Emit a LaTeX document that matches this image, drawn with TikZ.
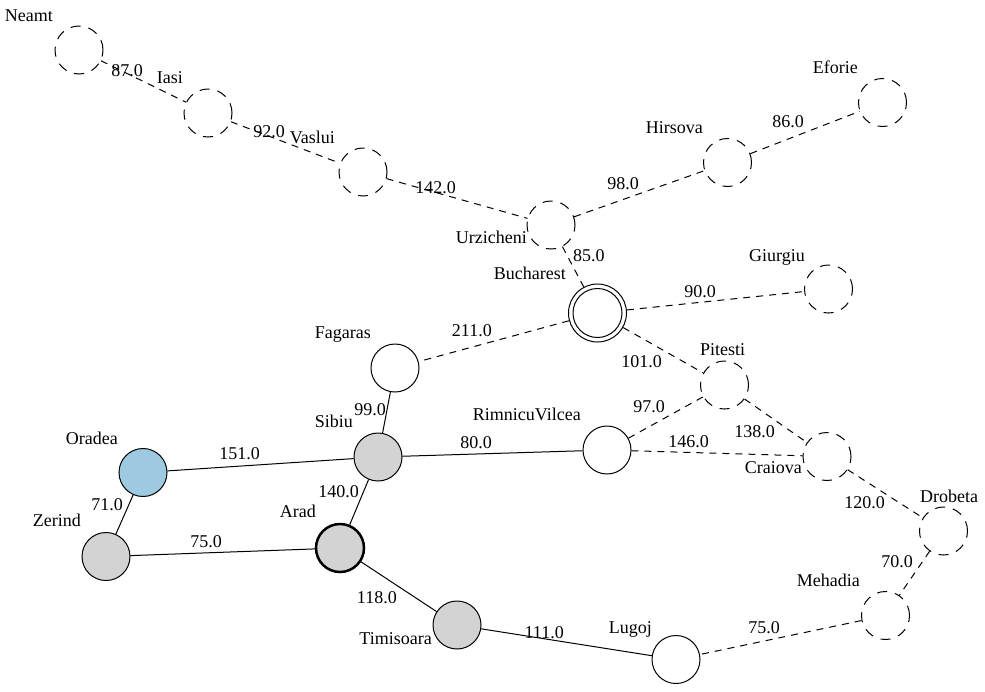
\documentclass[tikz,border=0pt]{standalone}
\usepackage{fontspec}
\setmainfont{Liberation Serif}
\definecolor{visitgray}{RGB}{211,211,211}
\definecolor{startblue}{RGB}{158,202,225}
\begin{document}
\begin{tikzpicture}[x=1pt,y=-1pt,
  every node/.style={font=\fontsize{18}{20}\selectfont},
  city/.style={circle,draw,line width=1pt,minimum size=48pt,inner sep=0pt},
  unexplored/.style={city,dash pattern=on 10pt off 8pt},
  reached/.style={city,fill=white},
  expanded/.style={city,fill=visitgray},
  road/.style={line width=1pt},
  pending/.style={road,dash pattern=on 7pt off 6pt},
  lblE/.style={anchor=base east,inner sep=0pt},
  lblW/.style={anchor=base west,inner sep=0pt},
]
\useasboundingbox (0,0) rectangle (985,691);

% cities
\node[unexplored] (Neamt) at (79,50) {};
\node[unexplored] (Iasi) at (208,113) {};
\node[unexplored] (Vaslui) at (363,172) {};
\node[unexplored] (Urzicheni) at (551,225) {};
\node[unexplored] (Hirsova) at (727.5,162.5) {};
\node[unexplored] (Eforie) at (882.5,102.5) {};
\node[city,minimum size=58pt] (Bucharest) at (597.5,313) {};
\draw[line width=1pt] (Bucharest.center) circle (24.5);
\node[unexplored] (Giurgiu) at (828.5,289) {};
\node[reached] (Fagaras) at (395,368) {};
\node[unexplored] (Pitesti) at (724.5,385) {};
\node[expanded] (Sibiu) at (378,457) {};
\node[reached] (Rimnicu) at (607,450) {};
\node[unexplored] (Craiova) at (827,456.5) {};
\node[city,fill=startblue] (Oradea) at (143,472.5) {};
\node[expanded] (Zerind) at (106,556.5) {};
\node[expanded,line width=2.5pt] (Arad) at (340,548) {};
\node[unexplored] (Drobeta) at (943.5,531) {};
\node[unexplored] (Mehadia) at (885.5,615.5) {};
\node[expanded] (Timisoara) at (457,625) {};
\node[reached] (Lugoj) at (676,659.5) {};

% city names
\node[lblE] (tNeamt) at (53,21) {Neamt};
\node[lblE] (tIasi) at (183,83) {Iasi};
\node[lblE] (tVaslui) at (335,143) {Vaslui};
\node[lblE] (tUrzicheni) at (527,243) {Urzicheni};
\node[lblE] (tHirsova) at (703,133) {Hirsova};
\node[lblE] (tEforie) at (858,73) {Eforie};
\node[lblE] (tBucharest) at (566,279) {Bucharest};
\node[lblE] (tGiurgiu) at (805,261) {Giurgiu};
\node[lblE] (tFagaras) at (371,338) {Fagaras};
\node[lblW] (tPitesti) at (700,355) {Pitesti};
\node[lblE] (tSibiu) at (353,427) {Sibiu};
\node[lblE] (tRimnicu) at (581,420) {RimnicuVilcea};
\node[lblE] (tCraiova) at (802,473) {Craiova};
\node[lblE] (tOradea) at (118,444) {Oradea};
\node[lblE] (tZerind) at (81,526) {Zerind};
\node[lblE] (tArad) at (316,517) {Arad};
\node[lblW] (tDrobeta) at (920,502) {Drobeta};
\node[lblE] (tMehadia) at (860,586) {Mehadia};
\node[lblE] (tTimisoara) at (432,644) {Timisoara};
\node[lblE] (tLugoj) at (652,633) {Lugoj};

% roads already travelled
\draw[road] (Oradea) -- (Sibiu);
\draw[road] (Oradea) -- (Zerind);
\draw[road] (Zerind) -- (Arad);
\draw[road] (Arad) -- (Sibiu);
\draw[road] (Sibiu) -- (Fagaras);
\draw[road] (Sibiu) -- (Rimnicu);
\draw[road] (Arad) -- (Timisoara);
\draw[road] (Timisoara) -- (Lugoj);

% roads not yet travelled
\draw[pending] (Neamt) -- (Iasi);
\draw[pending] (Iasi) -- (Vaslui);
\draw[pending] (Vaslui) -- (Urzicheni);
\draw[pending] (Urzicheni) -- (Hirsova);
\draw[pending] (Hirsova) -- (Eforie);
\draw[pending] (Urzicheni) -- (Bucharest);
\draw[pending] (Bucharest) -- (Giurgiu);
\draw[pending] (Bucharest) -- (Fagaras);
\draw[pending] (Bucharest) -- (Pitesti);
\draw[pending] (Rimnicu) -- (Pitesti);
\draw[pending] (Rimnicu) -- (Craiova);
\draw[pending] (Pitesti) -- (Craiova);
\draw[pending] (Craiova) -- (Drobeta);
\draw[pending] (Drobeta) -- (Mehadia);
\draw[pending] (Mehadia) -- (Lugoj);

% distances
\node[lblE] (dNI) at (143,76) {87.0};
\node[lblE] (dIV) at (285,137) {92.0};
\node[lblE] (dVU) at (456,193) {142.0};
\node[lblE] (dUH) at (639,189) {98.0};
\node[lblE] (dHE) at (804,127) {86.0};
\node[lblW] (dUB) at (573,261) {85.0};
\node[lblE] (dBG) at (716,297) {90.0};
\node[lblE] (dBF) at (492,336) {211.0};
\node[lblE] (dBP) at (662,367) {101.0};
\node[lblE] (dRP) at (665,412) {97.0};
\node[lblE] (dRC) at (709,447) {146.0};
\node[lblE] (dPC) at (775,437) {138.0};
\node[lblE] (dCD) at (885,508) {120.0};
\node[lblE] (dDM) at (913,567) {70.0};
\node[lblE] (dML) at (780,633) {75.0};
\node[lblE] (dTL) at (564,638) {111.0};
\node[lblE] (dAT) at (397,603) {118.0};
\node[lblE] (dZA) at (222,547) {75.0};
\node[lblE] (dOZ) at (123,510) {71.0};
\node[lblE] (dOS) at (260,459) {151.0};
\node[lblE] (dAS) at (359,497) {140.0};
\node[lblE] (dFS) at (386,415) {99.0};
\node[lblE] (dSR) at (492,448) {80.0};
\end{tikzpicture}
\end{document}
